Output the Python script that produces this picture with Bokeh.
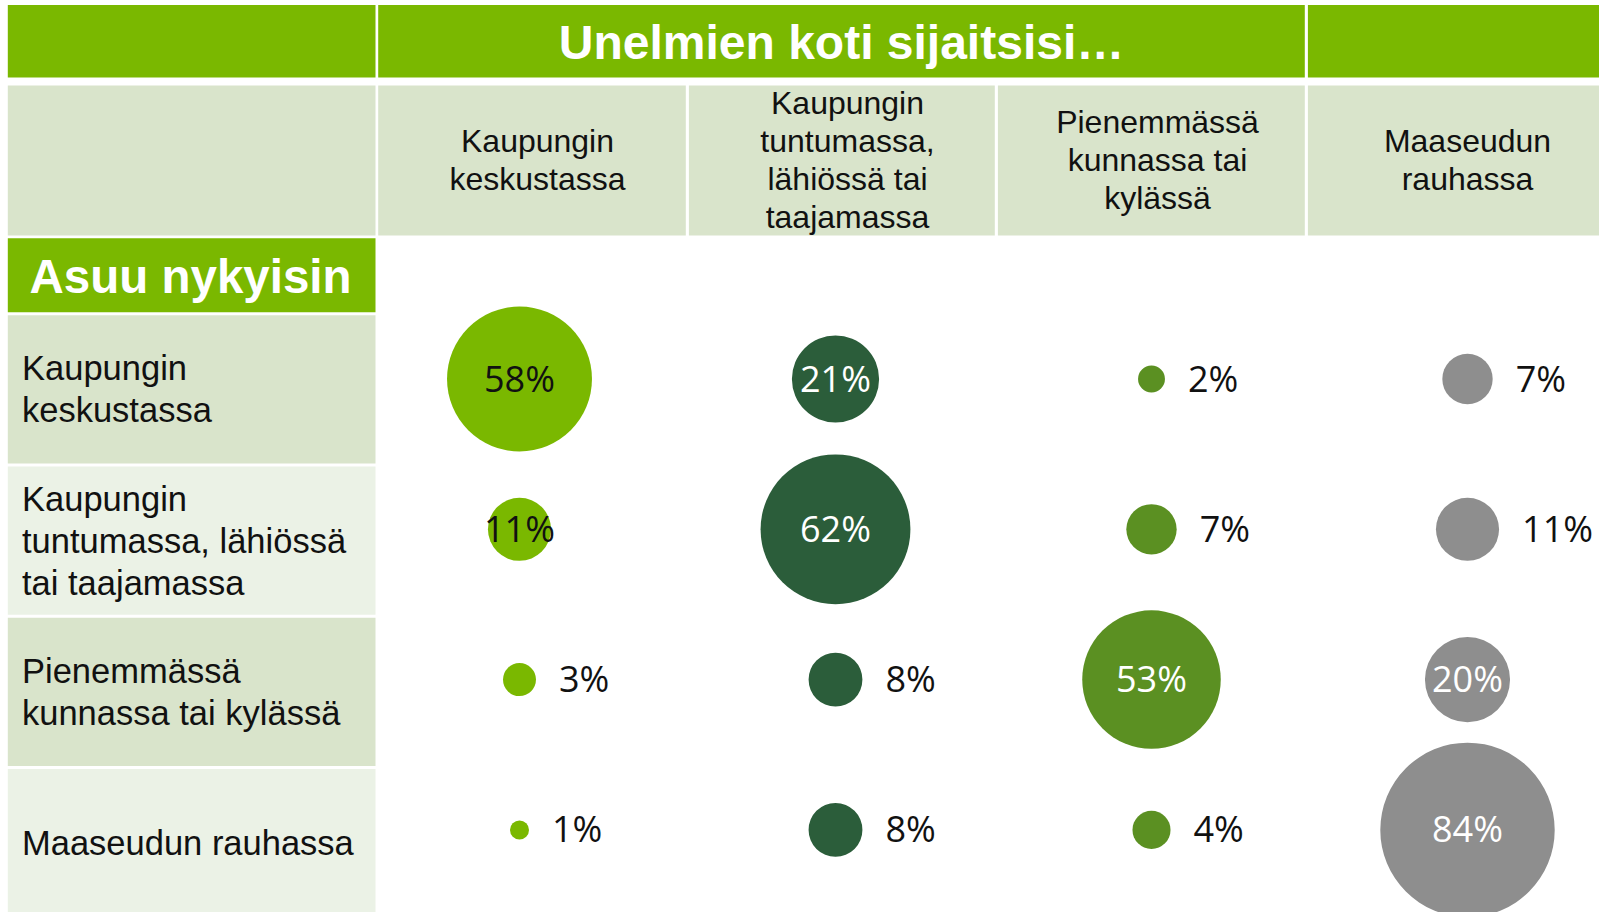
from bokeh.plotting import figure
from bokeh.models import Range1d, ColumnDataSource
from bokeh.core.properties import value
from bokeh.embed import file_html
from bokeh.resources import INLINE
import math

# ---------------- data ----------------
title = "Unelmien koti sijaitsisi…"
row_title = "Asuu nykyisin"
dream_locations = ["Kaupungin\nkeskustassa",
                   "Kaupungin\ntuntumassa,\nlähiössä tai\ntaajamassa",
                   "Pienemmässä\nkunnassa tai\nkylässä",
                   "Maaseudun\nrauhassa"]
current_locations = ["Kaupungin\nkeskustassa",
                     "Kaupungin\ntuntumassa, lähiössä\ntai taajamassa",
                     "Pienemmässä\nkunnassa tai kylässä",
                     "Maaseudun rauhassa"]
# percentages: rows = currently lives, columns = dream home location
row_city_centre = [58, 21, 2, 7]
row_suburb = [11, 62, 7, 11]
row_small_town = [3, 8, 53, 20]
row_countryside = [1, 8, 4, 84]
# whether the label sits inside the bubble
inside_city_centre = [True, True, False, False]
inside_suburb = [True, True, False, False]
inside_small_town = [False, False, True, True]
inside_countryside = [False, False, False, True]

# ---------------- style ----------------
W, H = 1599, 912
GREEN = "#7ab800"
LIGHT = "#d9e4cb"
LIGHTER = "#ebf2e6"
col_colors = ["#7ab800", "#2b5d3a", "#5b9022", "#8e8e8e"]
inside_text_colors = ["#111111", "#ffffff", "#ffffff", "#ffffff"]
HEAD_FONT = value("Liberation Sans")
PCT_FONT = value("Open Sans")

p = figure(width=W, height=H, x_range=Range1d(0, W), y_range=Range1d(H, 0),
           output_backend="svg", toolbar_location=None, min_border=0,
           background_fill_color="white", border_fill_color="white")
p.axis.visible = False
p.grid.visible = False
p.outline_line_color = None

# ---- table background ----
LEFT0, LEFT1 = 7.3, 375
COL_EDGES = [(377.7, 685.3), (688.4, 994.3), (997.4, 1304.3), (1307.4, 1620)]
# top green header row
p.quad(left=[LEFT0, 377.7, 1307.4], right=[LEFT1, 1304.3, 1620],
       top=[4.5] * 3, bottom=[77] * 3, fill_color=GREEN, line_color=None)
# column header row
p.quad(left=[LEFT0] + [c[0] for c in COL_EDGES], right=[LEFT1] + [c[1] for c in COL_EDGES],
       top=[85] * 5, bottom=[235] * 5, fill_color=LIGHT, line_color=None)
# "Asuu nykyisin" cell
p.quad(left=[LEFT0], right=[LEFT1], top=[237.7], bottom=[311.7], fill_color=GREEN, line_color=None)
# row label cells
ROW_TOP0, ROW_PITCH, ROW_H = 314.7, 151.3, 148.3
nrows = len(current_locations)
p.quad(left=[LEFT0] * nrows, right=[LEFT1] * nrows,
       top=[ROW_TOP0 + j * ROW_PITCH for j in range(nrows)],
       bottom=[ROW_TOP0 + j * ROW_PITCH + ROW_H for j in range(nrows)],
       fill_color=[LIGHT if j % 2 == 0 else LIGHTER for j in range(nrows)], line_color=None)

# ---- header texts ----
p.text(x=[841], y=[42], text=[title], text_font=HEAD_FONT, text_font_style="bold",
       text_font_size="48px", text_color="white", text_align="center", text_baseline="middle")
p.text(x=[29], y=[276], text=[row_title], text_font=HEAD_FONT, text_font_style="bold",
       text_font_size="47.5px", text_color="white", text_align="left", text_baseline="middle")

def multiline(labels, xs, ycs, lh):
    X, Y, T = [], [], []
    for lab, x, yc in zip(labels, xs, ycs):
        lines = lab.split("\n")
        n = len(lines)
        for k, ln in enumerate(lines):
            X.append(x)
            Y.append(yc + (k - (n - 1) / 2) * lh)
            T.append(ln)
    return X, Y, T

hx, hy, ht = multiline(dream_locations, [537 + i * 310 for i in range(4)], [159] * 4, 38)
p.text(x=hx, y=hy, text=ht, text_font=HEAD_FONT, text_font_size="32px", text_color="#111111",
       text_align="center", text_baseline="middle")

rx, ry, rt = multiline(current_locations, [21.5] * nrows,
                       [ROW_TOP0 + j * ROW_PITCH + ROW_H / 2 for j in range(nrows)], 42)
p.text(x=rx, y=ry, text=rt, text_font=HEAD_FONT, text_font_size="34.5px", text_color="#111111",
       text_align="left", text_baseline="middle")

# ---- bubbles ----
rows = [row_city_centre, row_suburb, row_small_town, row_countryside]
insides = [inside_city_centre, inside_suburb, inside_small_town, inside_countryside]
BX0, BDX, BY0, BDY = 519, 316, 378.5, 150.3
K = 19.03  # diameter px per sqrt(percent)

bx, by, bsize, bcolor = [], [], [], []
lx, ly, ltext, lcolor, lalign = [], [], [], [], []
for j, (vals, ins) in enumerate(zip(rows, insides)):
    for i, (v, inside) in enumerate(zip(vals, ins)):
        x = BX0 + i * BDX
        y = BY0 + j * BDY
        d = K * math.sqrt(v)
        bx.append(x); by.append(y); bsize.append(d); bcolor.append(col_colors[i])
        ly.append(y - 1)
        ltext.append(f"{v}%")
        if inside:
            lx.append(x); lcolor.append(inside_text_colors[i]); lalign.append("center")
        else:
            lx.append(x + d / 2 + 23); lcolor.append("#111111"); lalign.append("left")

src_b = ColumnDataSource(dict(x=bx, y=by, size=bsize, color=bcolor))
p.scatter(x="x", y="y", size="size", fill_color="color", line_color=None, source=src_b)

src_l = ColumnDataSource(dict(x=lx, y=ly, text=ltext, color=lcolor, align=lalign))
p.text(x="x", y="y", text="text", text_color="color", text_align="align", text_baseline="middle",
       text_font=PCT_FONT, text_font_size="36px", source=src_l)

open("out.html", "w").write(file_html(p, INLINE))
